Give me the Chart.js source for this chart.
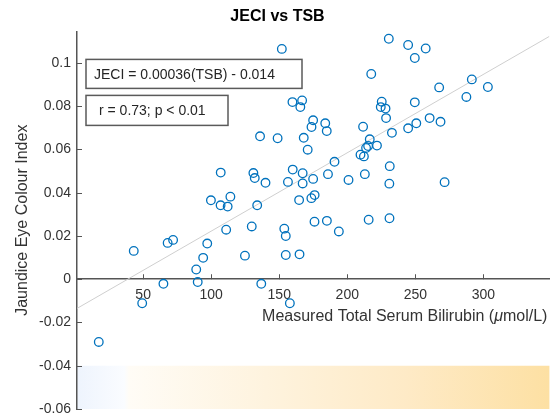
<!DOCTYPE html>
<html>
<head>
<meta charset="utf-8">
<script src="https://cdn.jsdelivr.net/npm/chart.js@4.4.0/dist/chart.umd.min.js"></script>
<style>
  html, body { margin: 0; padding: 0; background: #fff; }
  #wrap { width: 555px; height: 419px; }
</style>
</head>
<body>
<div id="wrap"><canvas id="chart" width="555" height="419"></canvas></div>
<script>
// measured total serum bilirubin (umol/L) and eye colour index, one entry per patient
const tsb = [17.4, 43.1, 49.3, 64.9, 68.0, 72.0, 89.0, 90.1, 94.1, 97.1,
  99.8, 106.9, 112.1, 114.1, 111.0, 107.0, 124.8, 129.8, 133.8, 131.0,
  132.0, 139.9, 135.9, 136.8, 148.8, 151.9, 153.7, 154.8, 154.8, 157.8,
  156.4, 159.9, 159.7, 166.8, 165.5, 164.9, 164.6, 167.2, 167.2, 168.0,
  170.9, 174.9, 173.7, 173.6, 176.0, 174.9, 175.9, 183.8, 184.9, 185.0,
  185.8, 190.6, 193.8, 200.9, 209.7, 212.2, 211.6, 212.9, 213.8, 215.3,
  216.5, 215.7, 217.6, 221.8, 225.3, 224.6, 228.1, 228.5, 230.5, 231.2,
  230.9, 231.0, 232.8, 244.7, 244.7, 249.6, 249.6, 250.7, 257.6, 260.5,
  267.5, 268.5, 271.5, 287.5, 291.5, 303.3];
const jeci = [-0.029, 0.0131, -0.0111, -0.0021, 0.0168, 0.0182, 0.0045, -0.0013, 0.0099, 0.0165,
  0.0365, 0.0342, 0.0336, 0.0382, 0.0229, 0.0493, 0.0109, 0.0244, 0.0342, 0.0491,
  0.0468, 0.0446, 0.0661, -0.0021, 0.0652, 0.1065, 0.0234, 0.0200, 0.0112, -0.0111,
  0.0450, 0.0507, 0.0819, 0.0827, 0.0796, 0.0115, 0.0366, 0.0490, 0.0443, 0.0654,
  0.0599, 0.0735, 0.0704, 0.0375, 0.0389, 0.0464, 0.0266, 0.0721, 0.0685, 0.0270,
  0.0486, 0.0543, 0.0221, 0.0459, 0.0576, 0.0568, 0.0705, 0.0486, 0.0607, 0.0616,
  0.0647, 0.0275, 0.0949, 0.0618, 0.0821, 0.0796, 0.0789, 0.0745, 0.1112, 0.0523,
  0.0442, 0.0282, 0.0677, 0.1083, 0.0698, 0.1023, 0.0818, 0.0721, 0.1067, 0.0745,
  0.0887, 0.0728, 0.0449, 0.0843, 0.0924, 0.0889];

// fitted line end points
const fitTsb = [1.4, 348.5];
const fitJeci = [-0.0135, 0.1123];

const xTicks = [50, 100, 150, 200, 250, 300];
const yTicks = [-0.06, -0.04, -0.02, 0, 0.02, 0.04, 0.06, 0.08, 0.1];
const yTickLabels = ['-0.06', '-0.04', '-0.02', '0', '0.02', '0.04', '0.06', '0.08', '0.1'];

// colour strip along the bottom
const bandJeci = [-0.06, -0.04];
const bandStops = [0, 0.1, 0.11, 0.4, 0.7, 1];
const bandColours = ['#eef4fd', '#fafcff', '#fffcf6', '#fef3de', '#feeac6', '#fde0a3'];

const eqText = 'JECI = 0.00036(TSB) - 0.014';
const statText = 'r = 0.73; p < 0.01';

const FONT = "'Liberation Sans', Arial, sans-serif";
const AXIS = '#555555';
const TEXT = '#333333';

const extras = {
  id: 'extras',
  beforeDraw(chart) {
    const {ctx, chartArea: ca, scales: {x, y}} = chart;
    const top = y.getPixelForValue(bandJeci[1]);
    const bot = y.getPixelForValue(bandJeci[0]);
    const g = ctx.createLinearGradient(ca.left, 0, ca.right, 0);
    bandStops.forEach((s, i) => g.addColorStop(s, bandColours[i]));
    ctx.save();
    ctx.fillStyle = g;
    ctx.fillRect(ca.left, top, ca.right - ca.left, bot - top);
    ctx.restore();
  },
  afterDraw(chart) {
    const {ctx, chartArea: ca, scales: {x, y}} = chart;
    const y0 = y.getPixelForValue(0);
    ctx.save();

    // inward tick marks
    ctx.strokeStyle = AXIS;
    ctx.lineWidth = 1;
    ctx.beginPath();
    yTicks.forEach(v => {
      const py = Math.round(y.getPixelForValue(v)) + 0.5;
      ctx.moveTo(ca.left, py);
      ctx.lineTo(ca.left + 5, py);
    });
    xTicks.forEach(v => {
      const px = Math.round(x.getPixelForValue(v)) + 0.5;
      ctx.moveTo(px, y0);
      ctx.lineTo(px, y0 - 5);
    });
    ctx.stroke();

    // x axis label, mu in italics
    const parts = [['Measured Total Serum Bilirubin (', ''], ['\u03bc', 'italic '], ['mol/L)', '']];
    let total = 0;
    parts.forEach(p => { ctx.font = p[1] + '16px ' + FONT; total += ctx.measureText(p[0]).width; });
    let tx = ca.right - 2 - total;
    ctx.fillStyle = TEXT;
    ctx.textBaseline = 'alphabetic';
    ctx.textAlign = 'left';
    parts.forEach(p => {
      ctx.font = p[1] + '16px ' + FONT;
      ctx.fillText(p[0], tx, y0 + 42);
      tx += ctx.measureText(p[0]).width;
    });

    // annotation boxes
    function box(left, top, w, h, text, pad) {
      ctx.fillStyle = '#ffffff';
      ctx.fillRect(left, top, w, h);
      ctx.strokeStyle = '#5a5a5a';
      ctx.lineWidth = 1.5;
      ctx.strokeRect(left, top, w, h);
      ctx.fillStyle = '#262626';
      ctx.font = '14px ' + FONT;
      ctx.textBaseline = 'middle';
      ctx.fillText(text, left + pad, top + h / 2 + 1);
    }
    box(ca.left + 9, ca.top + 28, 216, 29, eqText, 8);
    box(ca.left + 9, ca.top + 64, 142, 30, statText, 13);

    ctx.restore();
  }
};

const points = tsb.map((v, i) => ({x: v, y: jeci[i]}));
const fit = fitTsb.map((v, i) => ({x: v, y: fitJeci[i]}));

new Chart(document.getElementById('chart'), {
  type: 'scatter',
  data: {
    datasets: [{
      type: 'scatter',
      data: points,
      pointStyle: 'circle',
      pointRadius: 4.3,
      pointBorderWidth: 1.3,
      borderColor: '#0072BD',
      backgroundColor: 'rgba(0,0,0,0)',
      order: 1
    }, {
      type: 'line',
      data: fit,
      borderColor: '#cfcfcf',
      borderWidth: 1,
      pointRadius: 0,
      order: 2
    }]
  },
  options: {
    responsive: false,
    animation: false,
    devicePixelRatio: 1,
    layout: { padding: { top: 0, right: 0, bottom: 10, left: 0 } },
    plugins: {
      legend: { display: false },
      tooltip: { enabled: false },
      title: {
        display: true,
        text: 'JECI vs TSB',
        color: '#000000',
        font: { family: FONT, size: 16, weight: 'bold' },
        padding: { top: 7, bottom: 5.2 }
      }
    },
    scales: {
      x: {
        type: 'linear',
        min: fitTsb[0],
        max: fitTsb[1],
        position: { y: 0 },
        afterFit: s => { s.height = 0; },
        afterBuildTicks: s => { s.ticks = xTicks.map(v => ({value: v})); },
        grid: { display: true, drawOnChartArea: false, drawTicks: false },
        border: { display: true, color: AXIS, width: 1.5 },
        ticks: { color: TEXT, font: { family: FONT, size: 14 }, padding: 8, maxRotation: 0, autoSkip: false }
      },
      y: {
        type: 'linear',
        min: -0.06,
        max: 0.1146,
        afterFit: s => { s.width = 77; s.paddingTop = 0; s.paddingBottom = 0; },
        afterBuildTicks: s => { s.ticks = yTicks.map(v => ({value: v})); },
        grid: { display: true, drawOnChartArea: false, drawTicks: false },
        border: { display: true, color: AXIS, width: 1.5 },
        ticks: {
          color: TEXT,
          font: { family: FONT, size: 14 },
          padding: 6,
          autoSkip: false,
          callback: (v, i) => yTickLabels[i]
        },
        title: {
          display: true,
          text: 'Jaundice Eye Colour Index',
          color: TEXT,
          font: { family: FONT, size: 16 },
          padding: { top: 13, bottom: 0 }
        }
      }
    }
  },
  plugins: [extras]
});
</script>
</body>
</html>
